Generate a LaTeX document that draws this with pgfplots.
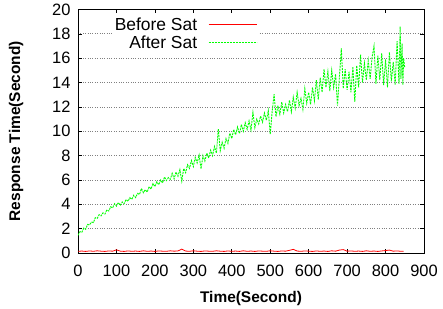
\documentclass[border=0pt]{standalone}
\usepackage{pgfplots}
\pgfplotsset{compat=1.18}
\usepackage{fontspec}
\setmainfont{Liberation Sans}
\definecolor{brightgreen}{RGB}{0,255,0}
\definecolor{brightred}{RGB}{255,0,0}
\begin{document}
\begin{tikzpicture}
\useasboundingbox (0,0) rectangle (443bp,309bp);
\begin{axis}[
  at={(78bp,56bp)}, anchor=south west,
  scale only axis, width=346bp, height=243.5bp,
  xmin=0, xmax=900, ymin=0, ymax=20,
  xtick={0,100,...,900}, ytick={0,2,...,20},
  /pgf/number format/assume math mode=true,
  ticklabel style={font=\fontsize{16.5}{16}\selectfont},
  xticklabel style={yshift=-9bp},
  yticklabel style={xshift=-4bp},
  tick style={black, line width=0.6pt},
  major tick length=4bp,
  axis line style={line width=0.9pt},
  ymajorgrids,
  major grid style={dotted, gray, line width=0.7pt},
  xlabel={\bfseries Time(Second)},
  ylabel={\bfseries Response Time(Second)},
  label style={font=\fontsize{15.5}{16}\selectfont},
  xlabel style={at={(axis description cs:0.5,-0.185)}, anchor=center},
  ylabel style={at={(axis description cs:-0.179,0.5)}, anchor=center},
  legend plot pos=right,
  legend cell align=right,
  legend image code/.code={\draw[#1] (0bp,0bp) -- (48bp,0bp);},
  legend style={at={(axis description cs:0.097,0.98)}, anchor=north west,
    fill=white, draw=none, font=\fontsize{17.5}{17.5}\selectfont,
    row sep=0bp, inner sep=1bp,
    /tikz/every odd column/.append style={column sep=9bp}},
]
\addplot[brightred, line width=0.8pt] coordinates {
(0,0.14) (10,0.16) (20,0.13) (30,0.17) (40,0.14) (50,0.18) (60,0.15) (70,0.13) (80,0.17) (90,0.15)
(100,0.26) (110,0.15) (120,0.13) (130,0.17) (140,0.14) (150,0.16) (160,0.13) (170,0.18) (180,0.14) (190,0.16)
(200,0.13) (210,0.17) (220,0.15) (230,0.14) (240,0.18) (250,0.15) (260,0.17) (270,0.32) (280,0.16) (290,0.14)
(300,0.18) (310,0.15) (320,0.13) (330,0.17) (340,0.15) (350,0.14) (360,0.18) (370,0.15) (380,0.13) (390,0.17)
(400,0.14) (410,0.16) (420,0.13) (430,0.18) (440,0.14) (450,0.16) (460,0.13) (470,0.17) (480,0.15) (490,0.14)
(500,0.18) (510,0.15) (520,0.13) (530,0.17) (540,0.15) (550,0.22) (560,0.30) (570,0.16) (580,0.14) (590,0.17)
(600,0.15) (610,0.13) (620,0.17) (630,0.14) (640,0.16) (650,0.13) (660,0.18) (670,0.15) (680,0.24) (690,0.28)
(700,0.15) (710,0.17) (720,0.14) (730,0.16) (740,0.13) (750,0.18) (760,0.14) (770,0.16) (780,0.13) (790,0.17)
(800,0.20) (810,0.24) (820,0.15) (830,0.17) (840,0.14) (847,0.15)
};
\addlegendentry{Before Sat}
\addplot[brightgreen, line width=0.9pt, dash pattern=on 2bp off 1bp] coordinates {
(0,1.45) (5,1.75) (10,1.70) (15,2.05) (20,1.95) (25,2.35) (30,2.30) (35,2.55) (40,2.50) (45,2.90)
(50,2.85) (55,3.15) (60,3.05) (65,3.30) (70,3.20) (75,3.55) (80,3.45) (85,3.80) (90,3.70) (95,4.05)
(100,3.85) (105,4.15) (110,3.90) (115,4.20) (120,4.05) (125,4.40) (130,4.25) (135,4.55) (140,4.40) (145,4.75)
(150,4.55) (155,4.90) (160,4.80) (165,5.30) (170,4.95) (175,5.20) (180,5.00) (185,5.45) (190,5.25) (195,5.70)
(200,5.45) (205,5.85) (210,5.60) (215,6.00) (220,5.75) (225,6.25) (230,5.95) (235,6.20) (240,6.05) (245,6.55)
(250,6.10) (255,6.65) (260,6.30) (265,6.85) (270,5.90) (275,6.95) (280,6.60) (285,7.25) (290,6.95) (295,7.60)
(300,7.10) (305,7.85) (310,7.40) (315,8.05) (320,6.90) (325,8.00) (330,7.55) (335,8.20) (340,7.80) (345,8.45)
(350,8.00) (355,8.75) (360,8.20) (365,10.20) (370,8.40) (375,9.10) (380,8.60) (385,9.40) (390,9.00) (395,9.85)
(400,9.40) (405,10.15) (410,9.70) (415,10.35) (420,9.80) (425,10.55) (430,10.00) (435,10.70) (440,10.15) (445,10.85)
(450,10.10) (455,11.55) (460,10.30) (465,11.00) (470,10.60) (475,11.25) (480,10.75) (485,11.50) (490,10.90) (495,11.70)
(500,9.75) (505,11.60) (510,13.05) (515,11.20) (520,12.10) (525,11.40) (530,12.40) (535,11.50) (540,12.20) (545,11.60)
(550,12.55) (555,11.60) (560,12.80) (565,11.90) (570,13.20) (575,12.10) (580,12.70) (585,11.80) (590,13.50) (595,12.30)
(600,13.20) (605,12.20) (610,13.60) (615,12.50) (620,14.20) (625,12.60) (630,14.40) (635,13.20) (640,15.10) (645,13.60)
(650,14.90) (655,13.30) (660,15.00) (665,13.60) (670,14.70) (675,12.10) (680,14.50) (685,16.80) (690,13.50) (695,15.10)
(700,13.40) (705,14.90) (710,13.20) (715,15.30) (720,12.40) (725,15.40) (730,13.60) (735,16.30) (740,14.00) (745,15.60)
(750,14.20) (755,15.80) (760,14.30) (765,16.10) (770,17.00) (775,13.90) (780,16.20) (785,14.20) (790,16.40) (795,13.80)
(800,15.90) (805,13.60) (810,16.50) (815,14.10) (820,15.70) (825,13.80) (830,17.40) (835,13.90) (838,18.60) (840,14.30)
(843,17.20) (845,13.80) (847,16.00) (850,15.20)
};
\addlegendentry{After Sat}
\end{axis}
\end{tikzpicture}
\end{document}
